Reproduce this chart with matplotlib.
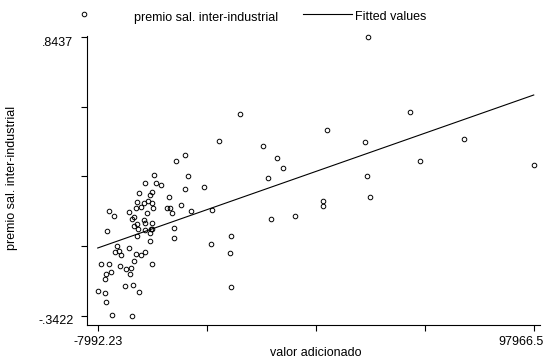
import numpy as np
import matplotlib
matplotlib.use('Agg')
from matplotlib import pyplot as plt
from matplotlib.lines import Line2D

plt.rcParams['font.family'] = ['Liberation Sans', 'DejaVu Sans']

# valor adicionado (x) and premio sal. inter-industrial (y)
valor = [13224, 11037, 5691, 14027, 3430, 6177, 7319, 13297, 17769, 1972,
         5132, 4791, 9409, 4160, 3260, 1486, 5277, 12179, 2604, 1389,
         5448, 8923, 9652, -5246, -385, 3916, 10138, 14610, 19859, -3958,
         903, 344, 3260, 5132, 1559, 3430, 830, 10624, 1729, 3576,
         4889, 5204, -5659, 4718, 1486, 24331, 10478, 4791, 19616, -3374,
         -312, -2888, -3715, 1243, 2458, 3503, -2257, 24161, -7190, -5173,
         -2500, 5132, 903, -1041, 28, -4833, -5975, -6145, -215, -1284,
         660, 24331, -7992.23, -6218, 1972, -6048, -4517, 344, 26591, 21488,
         57772, 67906, 47808, 56897, 80957, 32108, 35583, 36969, 70337, 97966.5,
         33396, 57529, 58258, 46763, 46763, 34052, 39958]
premio = [0.3436, 0.3181, 0.2559, 0.2529, 0.2231, 0.2231, 0.2158, 0.1988, 0.2039, 0.1817,
          0.1847, 0.1719, 0.1634, 0.1477, 0.1391, 0.1409, 0.1391, 0.1294, 0.1221, 0.1166,
          0.1166, 0.1153, 0.1178, 0.1051, 0.0995, 0.0965, 0.0965, 0.1051, 0.1068, 0.0838,
          0.0795, 0.0684, 0.0667, 0.0527, 0.0497, 0.0527, 0.0386, 0.0327, 0.0271, 0.0229,
          0.0258, 0.0258, 0.0173, 0.0114, -0.0040, -0.0040, -0.0125, -0.0227, -0.0355, -0.0440,
          -0.0551, -0.0679, -0.0721, -0.0781, -0.0824, -0.0721, -0.0849, -0.0764, -0.1220, -0.1220,
          -0.1292, -0.1232, -0.1079, -0.1420, -0.1390, -0.1548, -0.1658, -0.1859, -0.1646, -0.2144,
          -0.2101, -0.2199, -0.2357, -0.2442, -0.2412, -0.2838, -0.3379, -0.3422, 0.5183, 0.4032,
          0.8437, 0.5268, 0.4488, 0.3977, 0.4092, 0.3794, 0.3308, 0.2857, 0.3168, 0.3010,
          0.2431, 0.2529, 0.1647, 0.1451, 0.1264, 0.0697, 0.0812]

# fitted values at both ends of the x range
fit_x = [-7992.23, 97966.5]
fit_y = [-0.0538, 0.5979]

x_lo, x_hi = -7992.23, 97966.5
y_lo, y_hi = -0.3422, 0.8437
x_labels = ['-7992.23', '97966.5']
y_labels = ['-.3422', '.8437']

fs = 9
fig = plt.figure(figsize=(5.44, 3.61), dpi=100)
ax = fig.add_axes([0.1594, 0.0997, 0.8333, 0.8006])

ax.plot(valor, premio, 'o', ms=3.3, mfc='none', mec='black', mew=0.7, clip_on=False)
ax.plot(fit_x, fit_y, c='black', lw=0.8)

ax.set_xlim(-10665, 99498)
ax.set_ylim(-0.3818, 0.8492)
for s in ['top', 'right']:
    ax.spines[s].set_visible(False)
for s in ['left', 'bottom']:
    ax.spines[s].set_linewidth(0.8)

ax.set_xticks(np.linspace(x_lo, x_hi, 5))
ax.set_yticks(np.linspace(y_lo, y_hi, 5))
ax.set_xticklabels([])
ax.set_yticklabels([])
ax.tick_params(direction='out', length=4.5, width=0.8)

# range labels, placed like Stata does
ax.annotate(y_labels[1], xy=(0, y_hi), xycoords=('axes fraction', 'data'),
            xytext=(-9.6, -4.0), textcoords='offset points', ha='right', va='center', fontsize=fs)
ax.annotate(y_labels[0], xy=(0, y_lo), xycoords=('axes fraction', 'data'),
            xytext=(-9.6, -4.0), textcoords='offset points', ha='right', va='center', fontsize=fs)
ax.annotate(x_labels[0], xy=(x_lo, 0), xycoords=('data', 'axes fraction'),
            xytext=(0, -12.2), textcoords='offset points', ha='center', va='center', fontsize=fs)
ax.annotate(x_labels[1], xy=(x_hi, 0), xycoords=('data', 'axes fraction'),
            xytext=(6.8, -12.2), textcoords='offset points', ha='right', va='center', fontsize=fs)

fig.text(315.7 / 544, 1 - 353 / 361, 'valor adicionado', ha='center', va='center', fontsize=fs)
fig.text(12 / 544, 1 - 178 / 361, 'premio sal. inter-industrial', rotation=90,
         ha='center', va='center', fontsize=fs)

# legend on top
fig.add_artist(Line2D([84 / 544], [1 - 14 / 361], marker='o', ms=3.3, mfc='none',
                      mec='black', mew=0.7, ls='none', transform=fig.transFigure))
fig.text(134 / 544, 1 - 17.5 / 361, 'premio sal. inter-industrial', ha='left', va='center', fontsize=fs)
fig.add_artist(Line2D([303 / 544, 352 / 544], [1 - 14.3 / 361] * 2, c='black', lw=0.8,
                      transform=fig.transFigure))
fig.text(355 / 544, 1 - 17.5 / 361, 'Fitted values', ha='left', va='center', fontsize=fs)

fig.savefig('out.png', dpi=100)
